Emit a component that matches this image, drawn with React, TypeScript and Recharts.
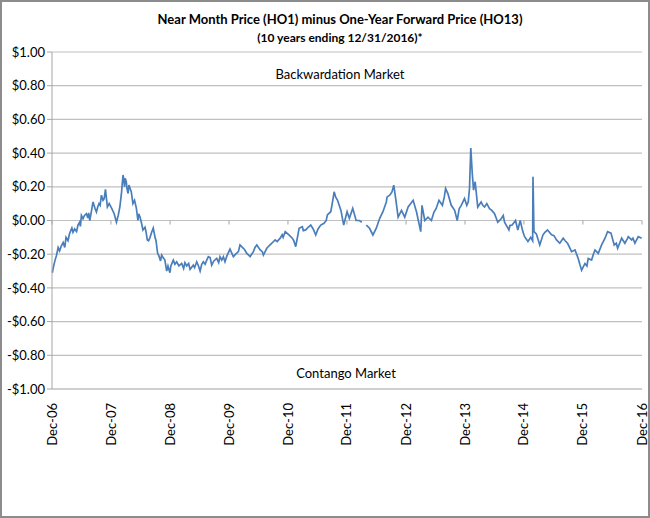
import { LineChart, Line, XAxis, YAxis, CartesianGrid, ReferenceLine } from 'recharts';

const dates = [
  '2007-01-02', '2007-01-08', '2007-01-19', '2007-01-27', '2007-02-07', '2007-02-16', '2007-02-25', '2007-03-10',
  '2007-03-20', '2007-03-28', '2007-04-09', '2007-04-28', '2007-05-10', '2007-05-20', '2007-06-01', '2007-06-10',
  '2007-07-01', '2007-07-11', '2007-08-01', '2007-08-22', '2007-09-02', '2007-09-11', '2007-09-24', '2007-10-02',
  '2007-10-18', '2007-11-02', '2007-11-12', '2007-11-27', '2007-12-09', '2007-12-20',
  '2008-01-03', '2008-01-20', '2008-02-03', '2008-02-14', '2008-02-24', '2008-03-06', '2008-03-15', '2008-03-24',
  '2008-04-04', '2008-04-15', '2008-04-24', '2008-05-05', '2008-05-15', '2008-06-05', '2008-06-15', '2008-06-28',
  '2008-07-16', '2008-07-29', '2008-08-12', '2008-08-29', '2008-09-18', '2008-09-29', '2008-10-15', '2008-10-23',
  '2008-11-09', '2008-11-29', '2008-12-10', '2008-12-30',
  '2009-01-20', '2009-02-10', '2009-02-24', '2009-03-13', '2009-04-13', '2009-05-04', '2009-05-24', '2009-06-14',
  '2009-07-05', '2009-07-25', '2009-08-25', '2009-09-15', '2009-10-16', '2009-11-16', '2009-12-06',
  '2010-01-06', '2010-01-27', '2010-02-27', '2010-03-09', '2010-03-30', '2010-04-20', '2010-05-11', '2010-05-31',
  '2010-06-21', '2010-07-12', '2010-08-01', '2010-08-22', '2010-09-22', '2010-10-13', '2010-11-13', '2010-12-14',
  '2011-01-06', '2011-01-27', '2011-02-17', '2011-03-10', '2011-03-30', '2011-04-20', '2011-05-21', '2011-06-21',
  '2011-07-22', '2011-08-11', '2011-09-01', '2011-09-22', '2011-10-13', '2011-11-03', '2011-11-24', '2011-12-11',
  '2012-01-01', '2012-01-15', '2012-02-05', '2012-02-26', '2012-03-17', '2012-04-01', '2012-04-15', '2012-04-29',
  '2012-05-19', '2012-06-09', '2012-06-30', '2012-07-21', '2012-08-10', '2012-08-31', '2012-09-21', '2012-10-16',
  '2012-10-28', '2012-11-12', '2012-12-03', '2012-12-23',
  '2013-01-13', '2013-02-13', '2013-03-06', '2013-04-01', '2013-04-09', '2013-04-26', '2013-05-16', '2013-06-06',
  '2013-06-22', '2013-07-23', '2013-08-13', '2013-09-02', '2013-09-16', '2013-10-07', '2013-10-28', '2013-11-13',
  '2013-12-08', '2013-12-28',
  '2014-01-11', '2014-01-28', '2014-02-05', '2014-02-14', '2014-02-22', '2014-03-04', '2014-03-20', '2014-04-10',
  '2014-05-01', '2014-06-01', '2014-07-02', '2014-07-22', '2014-08-12', '2014-09-02', '2014-09-29', '2014-10-19',
  '2014-11-09', '2014-11-23', '2014-12-08', '2014-12-24',
  '2015-01-04', '2015-01-25', '2015-02-11', '2015-02-23', '2015-02-25', '2015-03-03', '2015-03-18', '2015-04-08',
  '2015-04-28', '2015-05-26', '2015-06-20', '2015-07-21', '2015-08-10', '2015-08-31', '2015-09-27', '2015-10-22',
  '2015-11-12', '2015-12-02', '2015-12-23',
  '2016-01-13', '2016-02-02', '2016-02-23', '2016-03-15', '2016-04-04', '2016-04-25', '2016-05-16', '2016-06-01',
  '2016-06-22', '2016-07-12', '2016-08-02', '2016-08-27', '2016-09-16', '2016-10-07', '2016-10-28', '2016-11-17',
  '2016-12-08', '2016-12-29',
];

// HO1 - HO13 spread, $/gal (null = missing data)
const spread = [
  -0.31, -0.28, -0.235, -0.21, -0.16, -0.18, -0.155, -0.13,
  -0.16, -0.1, -0.12, -0.056, -0.07, -0.05, -0.065, -0.027,
  0.03, 0.01, 0.04, 0.0, 0.06, 0.11, 0.07, 0.05,
  0.1, 0.15, 0.12, 0.185, 0.08, 0.1,
  0.075, 0.04, -0.01, 0.03, 0.08, 0.17, 0.27, 0.2,
  0.23, 0.16, 0.2, 0.17, 0.1, 0.075, 0.0, 0.02,
  -0.056, -0.04, -0.115, -0.1, -0.045, -0.1, -0.195, -0.21,
  -0.205, -0.235, -0.3, -0.31,
  -0.235, -0.245, -0.27, -0.255, -0.27, -0.29, -0.265, -0.245,
  -0.3, -0.245, -0.215, -0.265, -0.225, -0.235, -0.245,
  -0.17, -0.215, -0.185, -0.145, -0.165, -0.195, -0.215, -0.185,
  -0.145, -0.175, -0.205, -0.165, -0.135, -0.115, -0.105, -0.066,
  -0.086, -0.105, -0.155, -0.046, -0.037, -0.056, -0.027, -0.086,
  -0.027, -0.017, 0.033, 0.052, 0.17, 0.12, 0.06, -0.027,
  0.052, 0.013, 0.072, 0.0, 0.0, -0.01, null, -0.027,
  -0.046, -0.086, -0.046, 0.013, 0.052, 0.11, 0.15, 0.21,
  0.13, 0.02, 0.06, 0.02,
  0.08, 0.12, 0.05, -0.066, 0.09, 0.0, 0.02, 0.0,
  0.05, 0.12, 0.09, 0.19, 0.16, 0.09, 0.06, 0.0,
  0.09, 0.13,
  0.09, 0.19, 0.43, 0.28, 0.18, 0.23, 0.08, 0.11,
  0.08, 0.07, 0.04, -0.01, 0.01, -0.01, -0.056, -0.027,
  0.0, -0.056, 0.0, -0.066,
  -0.096, -0.125, -0.1, -0.12, 0.26, -0.066, -0.08, -0.145,
  -0.085, -0.056, -0.085, -0.115, -0.135, -0.105, -0.135, -0.185,
  -0.175, -0.225, -0.295,
  -0.255, -0.225, -0.235, -0.175, -0.195, -0.145, -0.105, -0.066,
  -0.075, -0.145, -0.165, -0.105, -0.135, -0.096, -0.115, -0.135,
  -0.096, -0.105,
];

// extra readings of the day-to-day chop between the points above
const extraDates = [
  '2007-04-18', '2007-05-03', '2007-06-20', '2007-06-25', '2007-07-20', '2007-08-10', '2007-08-15', '2007-10-10',
  '2007-10-25', '2007-11-19',
  '2008-03-10', '2008-03-20', '2008-03-28', '2008-04-08', '2008-04-20', '2008-05-25', '2008-06-20', '2008-07-06',
  '2008-08-05', '2008-08-20', '2008-09-08', '2008-10-05', '2008-11-02', '2008-11-18', '2008-12-18',
  '2009-01-05', '2009-01-30', '2009-03-25', '2009-04-02', '2009-04-25', '2009-06-01', '2009-06-25', '2009-07-15',
  '2009-08-05', '2009-08-15', '2009-09-05', '2009-09-28', '2009-10-28', '2009-11-05', '2009-11-26', '2009-12-18',
  '2010-02-10', '2010-04-08', '2010-05-20', '2010-06-10', '2010-07-25', '2010-09-05', '2010-10-25', '2010-11-25',
  '2010-12-01',
  '2011-02-05', '2011-04-05', '2011-05-05', '2011-06-05', '2011-07-05', '2011-08-25', '2011-10-01', '2011-10-22',
  '2012-09-05', '2012-10-05',
  '2013-07-05', '2013-08-25', '2013-11-25', '2014-01-20', '2014-04-20', '2014-05-15', '2014-06-15', '2014-08-25',
  '2014-10-05',
  '2015-05-10', '2015-07-05', '2015-09-12', '2015-10-05', '2015-12-12', '2016-01-25', '2016-03-05', '2016-07-25',
  '2016-09-30', '2016-11-05',
];
const extraSpread = [
  -0.08, -0.045, -0.01, -0.035, 0.03, 0.015, 0.045, 0.08,
  0.09, 0.13,
  0.22, 0.24, 0.25, 0.19, 0.21, 0.12, 0.04, -0.01,
  -0.07, -0.12, -0.07, -0.12, -0.24, -0.22, -0.27,
  -0.27, -0.26, -0.285, -0.25, -0.255, -0.28, -0.27, -0.26,
  -0.26, -0.235, -0.22, -0.24, -0.25, -0.215, -0.215, -0.21,
  -0.2, -0.175, -0.2, -0.16, -0.185, -0.15, -0.125, -0.085,
  -0.1,
  -0.12, -0.06, -0.04, -0.05, -0.05, 0.0, 0.1, 0.14,
  0.14, 0.17,
  0.07, 0.14, 0.07, 0.11, 0.09, 0.1, 0.06, 0.03,
  -0.03,
  -0.07, -0.09, -0.12, -0.15, -0.26, -0.27, -0.2, -0.135,
  -0.11, -0.105,
];

const tickDates = [
  '2006-12-31', '2007-12-31', '2008-12-31', '2009-12-31', '2010-12-31', '2011-12-31',
  '2012-12-31', '2013-12-31', '2014-12-31', '2015-12-31', '2016-12-31',
];
const tickLabels = ['Dec-06', 'Dec-07', 'Dec-08', 'Dec-09', 'Dec-10', 'Dec-11', 'Dec-12', 'Dec-13', 'Dec-14', 'Dec-15', 'Dec-16'];
const yTicks = [-1, -0.8, -0.6, -0.4, -0.2, 0, 0.2, 0.4, 0.6, 0.8, 1];

const FONT = 'Lato, "Open Sans", sans-serif';

const data = [
  ...dates.map((d, i) => ({ t: Date.parse(d), v: spread[i] })),
  ...extraDates.map((d, i) => ({ t: Date.parse(d), v: extraSpread[i] })),
].sort((a, b) => a.t - b.t);
const xTicks = tickDates.map(d => Date.parse(d));

const fmtDollar = (v: number) => (v < 0 ? '-$' : '$') + Math.abs(v).toFixed(2);

function DateTick(props: any) {
  const { x, y, payload } = props;
  const idx = xTicks.indexOf(payload.value);
  return (
    <text
      transform={`translate(${x},${y}) rotate(-90)`}
      textAnchor="end"
      dy="0.35em"
      fontSize={13}
      fontFamily={FONT}
      fill="#000"
    >
      {tickLabels[idx]}
    </text>
  );
}

export default function App() {
  return (
    <div
      style={{
        position: 'absolute',
        left: 0,
        top: 0,
        width: 650,
        height: 518,
        boxSizing: 'border-box',
        border: '2px solid #8c8c8c',
        background: '#fff',
        fontFamily: FONT,
      }}
    >
      <div style={{ position: 'absolute', left: 0, width: 676, top: 9, textAlign: 'center', fontWeight: 700, fontSize: 13 }}>
        Near Month Price (HO1) minus One-Year Forward Price (HO13)
      </div>
      <div style={{ position: 'absolute', left: 0, width: 676, top: 28, textAlign: 'center', fontWeight: 700, fontSize: 12 }}>
        (10 years ending 12/31/2016)*
      </div>
      <div style={{ position: 'absolute', left: 0, width: 676, top: 64, textAlign: 'center', fontSize: 13 }}>
        Backwardation Market
      </div>
      <div style={{ position: 'absolute', left: 0, width: 688, top: 363, textAlign: 'center', fontSize: 13 }}>
        Contango Market
      </div>
      <div style={{ position: 'absolute', left: -2, top: -2 }}>
        <LineChart width={650} height={518} data={data} margin={{ top: 52, right: 8, bottom: 69, left: 0 }}>
          <CartesianGrid horizontal vertical={false} stroke="#c0c0c0" strokeWidth={1.2} />
          <XAxis
            dataKey="t"
            type="number"
            scale="time"
            domain={[xTicks[0], xTicks[xTicks.length - 1]]}
            ticks={xTicks}
            tick={<DateTick />}
            tickLine={false}
            axisLine={{ stroke: '#c0c0c0' }}
            height={60}
            tickMargin={8}
            interval={0}
          />
          <YAxis
            type="number"
            domain={[-1, 1]}
            ticks={yTicks}
            tickFormatter={fmtDollar}
            width={52}
            tickSize={5}
            tickLine={{ stroke: '#a6a6a6' }}
            axisLine={{ stroke: '#a6a6a6' }}
            tick={{ fontSize: 13, fontFamily: FONT, fill: '#000' }}
            interval={0}
          />
          {xTicks.map(t => (
            <ReferenceLine
              key={t}
              segment={[{ x: t, y: 0 }, { x: t, y: -0.024 }]}
              stroke="#a6a6a6"
              ifOverflow="visible"
            />
          ))}
          <Line
            type="linear"
            dataKey="v"
            stroke="#4a7ebb"
            strokeWidth={1.7}
            dot={false}
            connectNulls={false}
            isAnimationActive={false}
          />
        </LineChart>
      </div>
    </div>
  );
}
